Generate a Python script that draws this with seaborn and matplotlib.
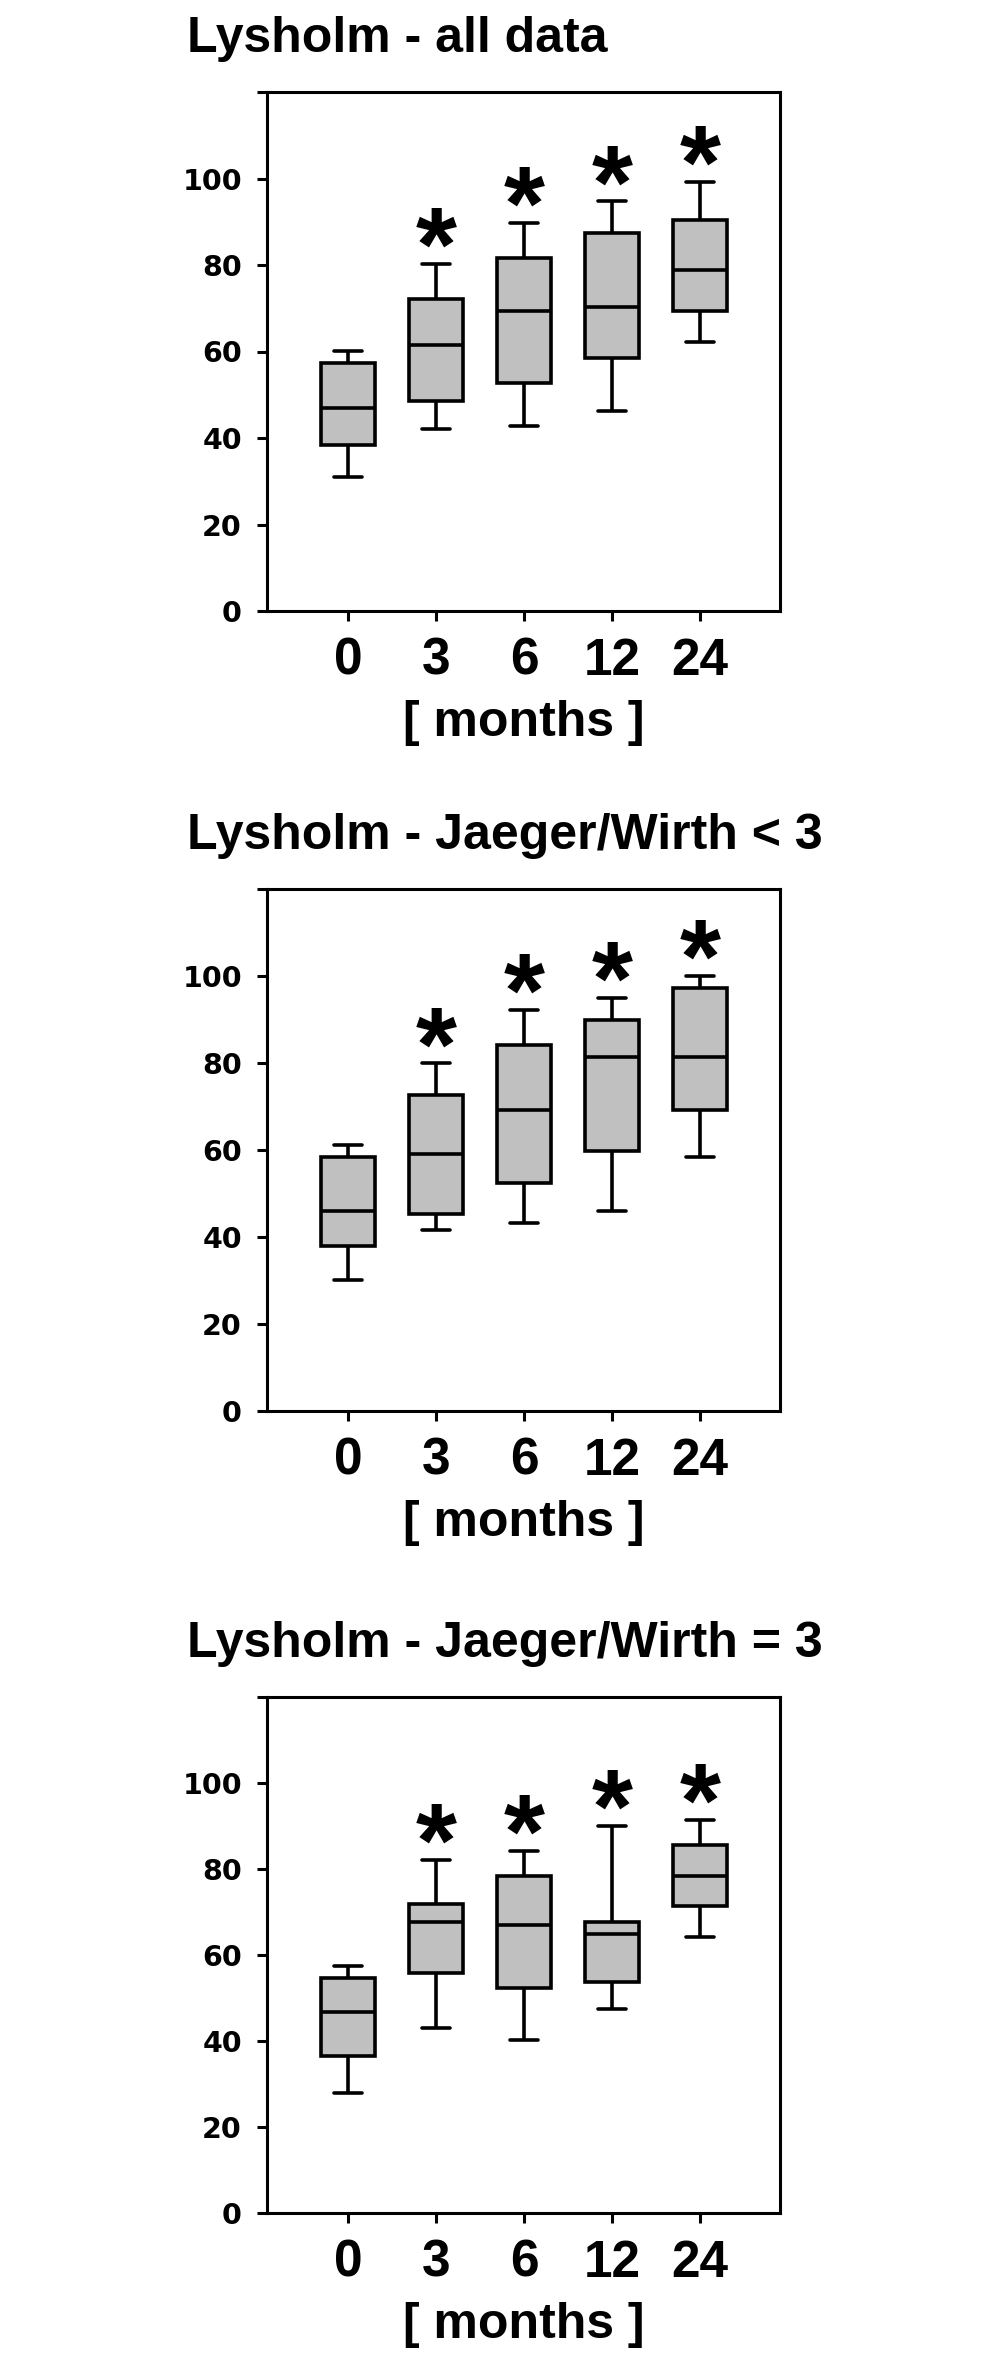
import numpy as np
import pandas as pd
import matplotlib
matplotlib.use("Agg")
import matplotlib.pyplot as plt
import seaborn as sns

# categories (months after surgery)
months = ["0", "3", "6", "12", "24"]
ytick_vals = [0, 20, 40, 60, 80, 100, 120]
ytick_text = ["0", "20", "40", "60", "80", "100", ""]

# Lysholm - all data  (whisker low, Q1, median, Q3, whisker high)
all_lo = [31.0, 42.0, 42.7, 46.3, 62.2]
all_q1 = [38.4, 48.5, 52.8, 58.5, 69.4]
all_med = [47.0, 61.5, 69.4, 70.3, 78.9]
all_q3 = [57.3, 72.2, 81.7, 87.5, 90.4]
all_hi = [60.1, 80.2, 89.7, 94.7, 99.1]
all_sig = [False, True, True, True, True]

# Lysholm - Jaeger/Wirth < 3
jw_lt3_lo = [30.1, 41.6, 43.2, 46.0, 58.3]
jw_lt3_q1 = [38.0, 45.2, 52.3, 59.7, 69.1]
jw_lt3_med = [46.0, 59.1, 69.1, 81.4, 81.4]
jw_lt3_q3 = [58.3, 72.7, 84.2, 89.8, 97.2]
jw_lt3_hi = [61.2, 79.9, 92.1, 95.0, 100.1]
jw_lt3_sig = [False, True, True, True, True]

# Lysholm - Jaeger/Wirth = 3
jw_eq3_lo = [27.9, 43.1, 40.2, 47.4, 64.1]
jw_eq3_q1 = [36.5, 55.9, 52.4, 53.7, 71.3]
jw_eq3_med = [46.7, 67.7, 67.0, 64.8, 78.3]
jw_eq3_q3 = [54.7, 71.9, 78.3, 67.7, 85.5]
jw_eq3_hi = [57.5, 82.0, 84.2, 90.1, 91.4]
jw_eq3_sig = [False, True, True, True, True]

panels = [
    ("Lysholm - all data", all_lo, all_q1, all_med, all_q3, all_hi, all_sig),
    ("Lysholm - Jaeger/Wirth < 3", jw_lt3_lo, jw_lt3_q1, jw_lt3_med, jw_lt3_q3, jw_lt3_hi, jw_lt3_sig),
    ("Lysholm - Jaeger/Wirth = 3", jw_eq3_lo, jw_eq3_q1, jw_eq3_med, jw_eq3_q3, jw_eq3_hi, jw_eq3_sig),
]

sns.set_style("ticks")
plt.rcParams['font.family'] = ['Liberation Sans', 'DejaVu Sans']
plt.rcParams['font.weight'] = 'bold'
plt.rcParams['text.color'] = 'black'
plt.rcParams['axes.labelcolor'] = 'black'
plt.rcParams['xtick.color'] = 'black'
plt.rcParams['ytick.color'] = 'black'
plt.rcParams['axes.edgecolor'] = 'black'

W, H = 1004, 2372
fig = plt.figure(figsize=(W / 100, H / 100), dpi=100)

# axes frames in pixels (top, bottom)
axes_px = [(92, 611), (889, 1411), (1697, 2213)]
left_px, right_px = 267, 780

for (title, lo, q1, med, q3, hi, sig), (top, bot) in zip(panels, axes_px):
    h = bot - top
    ax = fig.add_axes([left_px / W, 1 - bot / H, (right_px - left_px) / W, h / H])

    rows = []
    for m, a, b, c, d, e in zip(months, lo, q1, med, q3, hi):
        for v in (a, b, c, d, e):
            rows.append((m, v))
    df = pd.DataFrame(rows, columns=["month", "score"])

    sns.boxplot(data=df, x="month", y="score", order=months, whis=(0, 100),
                width=0.62, color="#c0c0c0", linecolor="black", linewidth=2.6,
                saturation=1, ax=ax)

    # significance stars above the upper whisker
    for i, m in enumerate(months):
        if sig[i]:
            ax.annotate("*", xy=(i, hi[i]), xytext=(0, -12), textcoords="offset points",
                        ha="center", va="baseline", fontsize=76, fontweight="bold")

    ax.set_xlim(-0.92, 4.91)
    ax.set_ylim(0, 120)
    ax.set_yticks(ytick_vals)
    ax.set_yticklabels(ytick_text, fontsize=20.5, fontweight="bold", family="DejaVu Sans")
    ax.tick_params(axis="y", length=7.2, width=2.2, pad=10.8, direction="out")
    ax.tick_params(axis="x", length=7.2, width=2.2, pad=11.5, direction="out", labelsize=37)
    for lab in ax.get_xticklabels():
        lab.set_fontweight("bold")
    ax.set_ylabel("")
    ax.set_xlabel("[ months ]", fontsize=36, fontweight="bold")
    ax.xaxis.set_label_coords(0.5, -89 / h)
    for s in ax.spines.values():
        s.set_linewidth(2.2)
        s.set_color("black")

    ax.annotate(title, xy=(0, 1), xycoords="axes fraction", xytext=(-57.6, 28.8),
                textcoords="offset points", ha="left", va="baseline",
                fontsize=36, fontweight="bold")

fig.savefig("out.png", dpi=100)
